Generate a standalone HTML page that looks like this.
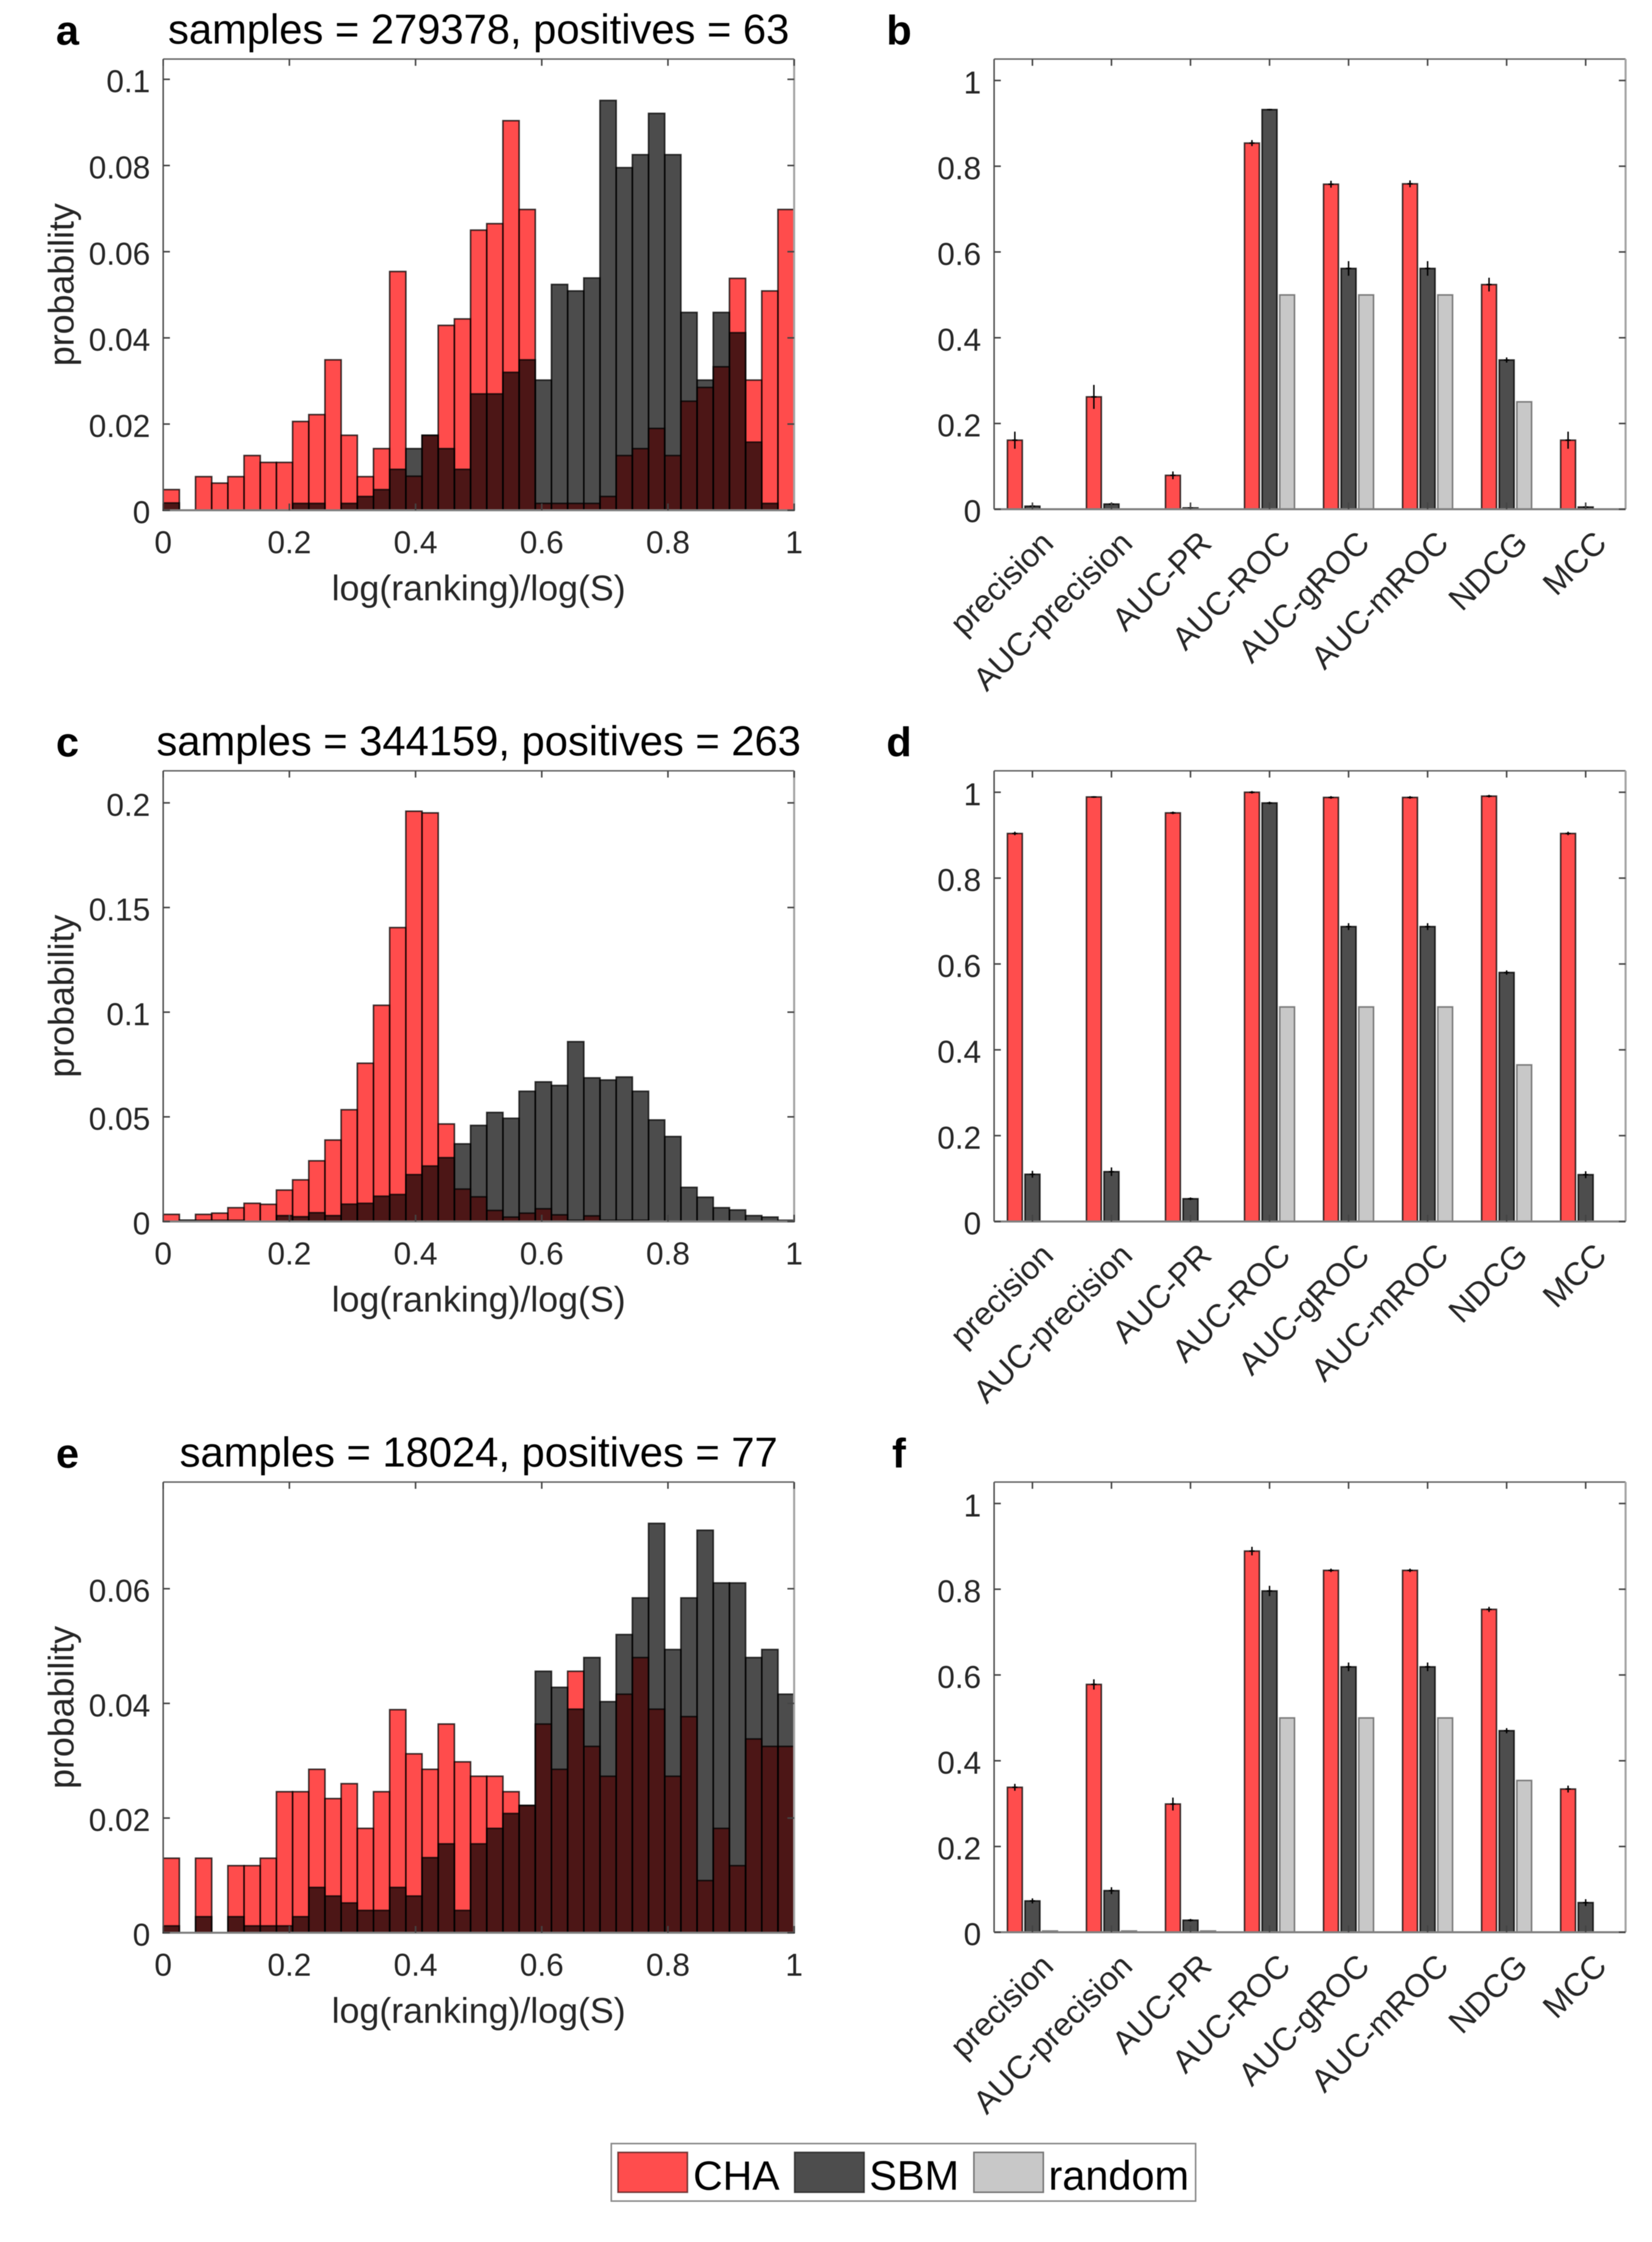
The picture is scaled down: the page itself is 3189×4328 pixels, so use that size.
<!DOCTYPE html>
<html lang="en">
<head>
<meta charset="utf-8">
<title>CHA vs SBM vs random link prediction</title>
<style>
html,body{margin:0;padding:0;background:#fff;}
svg{display:block;filter:blur(0.7px);}
text{font-family:"Liberation Sans",Arial,sans-serif;}
</style>
</head>
<body>
<svg id="figure" xmlns="http://www.w3.org/2000/svg" width="3189" height="4328" viewBox="0 0 3189 4328">
<rect x="0" y="0" width="3189" height="4328" fill="#fff"/>
<g id="panels"></g>
<g id="legend">
  <rect x="1180" y="4138" width="1128" height="111" fill="#fff" stroke="#8a8a8a" stroke-width="3"/>
  <g>
    <rect x="1193" y="4155" width="134" height="77" fill="#ff4d4d" stroke="#4d1717" stroke-opacity="0.75" stroke-width="3"/>
    <text x="1338" y="4227" font-size="79" fill="#000">CHA</text>
  </g>
  <g>
    <rect x="1534" y="4155" width="134" height="77" fill="#4d4d4d" stroke="#222" stroke-opacity="0.8" stroke-width="3"/>
    <text x="1678" y="4227" font-size="80" fill="#000">SBM</text>
  </g>
  <g>
    <rect x="1880" y="4155" width="134" height="77" fill="#c8c8c8" stroke="#777" stroke-width="3"/>
    <text x="2024" y="4227" font-size="80" fill="#000">random</text>
  </g>
</g>
</svg>
<script>
// ---- shared axis labels ----
const histXTickLabels = ['0','0.2','0.4','0.6','0.8','1'];
const barCategories = ['precision','AUC-precision','AUC-PR','AUC-ROC','AUC-gROC','AUC-mROC','NDCG','MCC'];
const barYTickLabels = ['0','0.2','0.4','0.6','0.8','1'];

// ---- panel a ----
const titleA = 'samples = 279378, positives = 63';
const yTicksA = ['0','0.02','0.04','0.06','0.08','0.1'];
const yMaxA = 0.1047;
const chaA = [.0048,0,.0078,.0063,.0078,.0127,.0111,.0111,.0206,.0222,.0349,.0174,.0078,.0143,.0554,.0079,.0174,.0429,.0444,.065,.0665,.0904,.0698,.0016,.0016,.0016,.0016,.0032,.0127,.0143,.019,.0127,.0253,.0285,.0333,.0538,.0302,.0509,.0698];
const sbmA = [.0017,0,0,0,0,0,0,0,.0016,.0016,0,.0016,.0032,.0048,.0095,.0143,.0174,.0143,.0095,.027,.027,.032,.0349,.0302,.0524,.0509,.0539,.0951,.0795,.0825,.0921,.0825,.0459,.0302,.0459,.0412,.0158,.0016,0];

// ---- panel c ----
const titleC = 'samples = 344159, positives = 263';
const yTicksC = ['0','0.05','0.1','0.15','0.2'];
const yMaxC = 0.2153;
const chaC = [.0034,.0006,.0034,.004,.0066,.0087,.0082,.015,.0199,.029,.0389,.0534,.0756,.1033,.1404,.196,.1952,.0466,.0155,.0118,.0053,.0021,.004,.0061,.0032,.0006,.0027,.0006,.0006,.0006,0,0,0,0,0,0,0,0,0];
const sbmC = [0,.0006,.0006,.0006,.0006,0,0,.0028,.0023,.0042,.0028,.0083,.0087,.0121,.0129,.0224,.0265,.0305,.0371,.0459,.0521,.0493,.0622,.0667,.065,.0859,.0686,.0676,.069,.0622,.0485,.0406,.0163,.0116,.0066,.0055,.0028,.0021,.0006];

// ---- panel e ----
const titleE = 'samples = 18024, positives = 77';
const yTicksE = ['0','0.02','0.04','0.06'];
const yMaxE = 0.0786;
const chaE = [.013,0,.013,0,.0117,.0117,.013,.0246,.0246,.0285,.0234,.026,.0182,.0246,.0389,.0312,.0285,.0364,.0298,.0273,.0273,.0246,.0222,.0364,.0285,.0456,.0325,.0273,.0416,.048,.039,.0273,.0377,.0091,.0182,.0117,.0338,.0325,.0325];
const sbmE = [.0012,0,.0028,0,.0028,.0012,.0012,.0012,.0028,.0079,.0064,.0052,.0039,.0039,.0079,.0064,.0131,.0155,.0039,.0155,.0182,.0208,.0222,.0456,.0428,.039,.048,.0403,.052,.0584,.0714,.0494,.0584,.0702,.061,.061,.048,.0494,.0416];

// ---- panel b ----
const chaB = [.161,.262,.079,.854,.758,.759,.524,.161];
const chaErrB = [.02,.028,.009,.007,.008,.008,.016,.02];
const sbmB = [.007,.012,.003,.932,.5616,.5616,.348,.005];
const sbmErrB = [.002,.004,.002,.002,.017,.017,.006,.002];
const randB = [.0003,.0003,.0001,.5,.5,.5,.2505,null];

// ---- panel d ----
const chaD = [.904,.989,.952,1.0,.988,.988,.991,.904];
const chaErrD = [.004,.002,.003,.003,.003,.003,.003,.004];
const sbmD = [.11,.116,.053,.975,.687,.687,.58,.109];
const sbmErrD = [.008,.01,.003,.003,.008,.008,.005,.008];
const randD = [null,null,null,.5,.5,.5,.365,null];

// ---- panel f ----
const chaF = [.338,.578,.299,.889,.844,.844,.753,.334];
const chaErrF = [.008,.012,.015,.01,.004,.004,.006,.008];
const sbmF = [.073,.097,.028,.796,.619,.619,.47,.069];
const sbmErrF = [.006,.008,.003,.012,.01,.01,.006,.008];
const randF = [.003,.003,.003,.5,.5,.5,.354,null];

const SVGNS = 'http://www.w3.org/2000/svg';
const root = document.getElementById('panels');

function make(parent, tag, props, txt) {
  const el = document.createElementNS(SVGNS, tag);
  for (const k in props) el.setAttribute(k, props[k]);
  if (txt !== undefined) el.textContent = txt;
  parent.appendChild(el);
  return el;
}

function drawFrame(g, box) {
  const top = make(g, 'line', {x1: box.L, x2: box.R, y1: box.T, y2: box.T, stroke: '#6a6a6a', 'stroke-width': 3});
  
  
  const left = make(g, 'line', {x1: box.L, x2: box.L, y1: box.T, y2: box.B, stroke: '#555', 'stroke-width': 3});
  
  
  const right = make(g, 'line', {x1: box.R, x2: box.R, y1: box.T, y2: box.B, stroke: '#a4a4a4', 'stroke-width': 4});
  
  
  const bottom = make(g, 'line', {x1: box.L, x2: box.R, y1: box.B, y2: box.B, stroke: '#808080', 'stroke-width': 4});
  
  
}

function drawYTicks(g, box, labels, yScale) {
  labels.forEach(function (lab) {
    const y = yScale(parseFloat(lab));
    const t1 = make(g, 'path', {d: 'M' + box.L + ' ' + y + 'h13M' + box.R + ' ' + y + 'h-13', stroke: '#444', 'stroke-width': 3, fill: 'none'});
    
    
    const t2 = make(g, 'text', {x: box.L - 25, y: y + 25, 'text-anchor': 'end', 'font-size': 61, fill: '#262626'}, lab);
    
    
  });
}

function drawBarPath(g, x0, x1, y0, y1, fill, stroke, name) {
  const d = 'M' + x0 + ' ' + y0 + 'V' + y1 + 'H' + x1 + 'V' + y0 + 'Z';
  const p = make(g, 'path', {d: d, fill: fill, stroke: stroke, 'stroke-width': 3});
  
  
  return p;
}

function drawHist(cfg) {
  const box = cfg.box;
  const g = make(root, 'g', {});
  
  
  const xScale = function (v) { return box.L + v * (box.R - box.L); };
  const yScale = function (v) { return box.B - v / cfg.yMax * (box.B - box.T); };
  const n = cfg.cha.length;
  cfg.cha.forEach(function (v, i) {
    drawBarPath(g, xScale(i / n), xScale((i + 1) / n), yScale(0), yScale(v), 'rgba(255,0,0,0.7)', 'rgba(0,0,0,0.75)', 'bar-cha-' + i);
  });
  cfg.sbm.forEach(function (v, i) {
    drawBarPath(g, xScale(i / n), xScale((i + 1) / n), yScale(0), yScale(v), 'rgba(0,0,0,0.7)', 'rgba(0,0,0,0.75)', 'bar-sbm-' + i);
  });
  drawFrame(g, box);
  histXTickLabels.forEach(function (lab) {
    const x = xScale(parseFloat(lab));
    const t1 = make(g, 'path', {d: 'M' + x + ' ' + box.B + 'v-13M' + x + ' ' + box.T + 'v13', stroke: '#444', 'stroke-width': 3, fill: 'none'});
    
    
    const t2 = make(g, 'text', {x: x, y: box.B + 83, 'text-anchor': 'middle', 'font-size': 61, fill: '#262626'}, lab);
    
    
  });
  drawYTicks(g, box, cfg.yTicks, yScale);
  const xt = make(g, 'text', {x: (box.L + box.R) / 2, y: box.B + 174, 'text-anchor': 'middle', 'font-size': 69, fill: '#262626'}, 'log(ranking)/log(S)');
  
  
  const yc = (box.T + box.B) / 2;
  const yt = make(g, 'text', {x: 142, y: yc, transform: 'rotate(-90 142 ' + yc + ')', 'text-anchor': 'middle', 'font-size': 69, fill: '#262626'}, 'probability');
  
  
  const ti = make(g, 'text', {x: (box.L + box.R) / 2, y: box.T - 30, 'text-anchor': 'middle', 'font-size': 80.5, fill: '#000'}, cfg.title);
  
  
  const le = make(g, 'text', {x: 108, y: box.T - 28, 'font-size': 80, 'font-weight': 'bold', fill: '#000'}, cfg.letter);
  
  
}

function drawErr(g, x, yScale, v, e) {
  const p = make(g, 'path', {d: 'M' + x + ' ' + yScale(v + e) + 'V' + yScale(Math.max(0, v - e)) + 'M' + (x - 5) + ' ' + yScale(v) + 'h10', stroke: '#000', 'stroke-width': 2.8, fill: 'none'});
  
  
}

function drawBars(cfg) {
  const box = cfg.box;
  const g = make(root, 'g', {});
  
  
  const xMin = 0.515, xMax = 8.505;
  const xScale = function (v) { return box.L + (v - xMin) / (xMax - xMin) * (box.R - box.L); };
  const yScale = function (v) { return box.B - v / 1.05 * (box.B - box.T); };
  const offset = 0.2225, width = 0.188;
  const drawSeries = function (vals, errs, slot, fill, stroke, name) {
    vals.forEach(function (v, i) {
      if (v === null) return;
      const c = xScale(i + 1 + slot * offset);
      drawBarPath(g, xScale(i + 1 + slot * offset - width / 2), xScale(i + 1 + slot * offset + width / 2), yScale(0), yScale(v), fill, stroke, 'bar-' + name + '-' + barCategories[i]);
      if (errs) drawErr(g, c, yScale, v, errs[i]);
    });
  };
  drawSeries(cfg.cha, cfg.chaErr, -1, '#ff4d4d', 'rgba(0,0,0,0.75)', 'cha');
  drawSeries(cfg.sbm, cfg.sbmErr, 0, '#4d4d4d', 'rgba(0,0,0,0.8)', 'sbm');
  drawSeries(cfg.rand, null, 1, '#c8c8c8', 'rgba(0,0,0,0.45)', 'random');
  drawFrame(g, box);
  barCategories.forEach(function (lab, i) {
    const x = xScale(i + 1);
    const t1 = make(g, 'path', {d: 'M' + x + ' ' + box.B + 'v-13M' + x + ' ' + box.T + 'v13', stroke: '#444', 'stroke-width': 3, fill: 'none'});
    
    
    const ax = x + 44, ay = box.B + 69;
    const t2 = make(g, 'text', {x: ax, y: ay, transform: 'rotate(-45 ' + ax + ' ' + ay + ')', 'text-anchor': 'end', 'font-size': 62.5, fill: '#262626'}, lab);
    
    
  });
  drawYTicks(g, box, barYTickLabels, yScale);
  const le = make(g, 'text', {x: cfg.letterX, y: box.T - 28, 'font-size': 80, 'font-weight': 'bold', fill: '#000'}, cfg.letter);
  
  
}

drawHist({letter: 'a', title: titleA, box: {L: 315, R: 1533, T: 114, B: 985}, yMax: yMaxA, yTicks: yTicksA, cha: chaA, sbm: sbmA});
drawHist({letter: 'c', title: titleC, box: {L: 315, R: 1533, T: 1488, B: 2358}, yMax: yMaxC, yTicks: yTicksC, cha: chaC, sbm: sbmC});
drawHist({letter: 'e', title: titleE, box: {L: 315, R: 1533, T: 2861, B: 3731}, yMax: yMaxE, yTicks: yTicksE, cha: chaE, sbm: sbmE});
drawBars({letter: 'b', letterX: 1711, box: {L: 1919, R: 3138, T: 114, B: 983}, cha: chaB, chaErr: chaErrB, sbm: sbmB, sbmErr: sbmErrB, rand: randB});
drawBars({letter: 'd', letterX: 1711, box: {L: 1919, R: 3138, T: 1488, B: 2358}, cha: chaD, chaErr: chaErrD, sbm: sbmD, sbmErr: sbmErrD, rand: randD});
drawBars({letter: 'f', letterX: 1722, box: {L: 1919, R: 3138, T: 2861, B: 3730}, cha: chaF, chaErr: chaErrF, sbm: sbmF, sbmErr: sbmErrF, rand: randF});
</script>
</body>
</html>
